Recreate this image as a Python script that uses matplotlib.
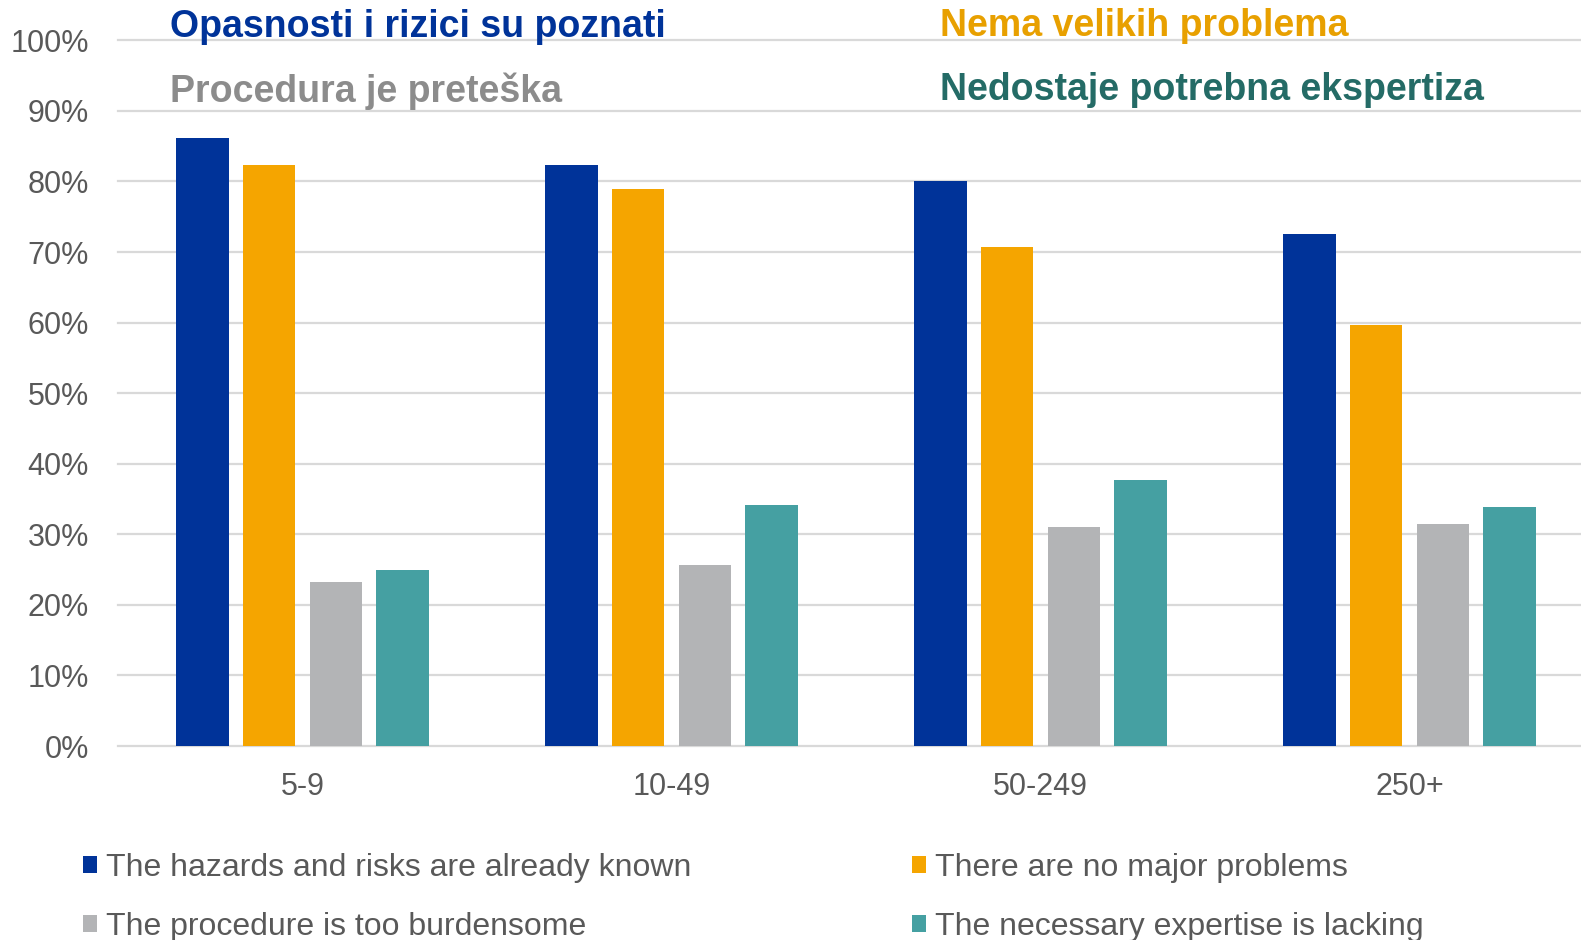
import numpy as np
import matplotlib.pyplot as plt
from matplotlib.patches import Patch

# Datos
categorias = ['5-9', '10-49', '50-249', '250+']
conocidos = [86.1, 82.4, 80.0, 72.6]
sin_problemas = [82.3, 78.9, 70.7, 59.7]
engorroso = [23.3, 25.6, 31.1, 31.4]
sin_experticia = [25.0, 34.1, 37.7, 33.9]

series = [conocidos, sin_problemas, engorroso, sin_experticia]
etiquetas = ['The hazards and risks are already known',
             'There are no major problems',
             'The procedure is too burdensome',
             'The necessary expertise is lacking']
colores = ['#003399', '#F5A500', '#B3B4B6', '#45A0A2']

titulos = ['Opasnosti i rizici su poznati', 'Nema velikih problema',
           'Procedura je preteška', 'Nedostaje potrebna ekspertiza']
colores_titulo = ['#003399', '#E8A000', '#8C8C8C', '#246B66']

plt.rcParams['font.family'] = ['Liberation Sans', 'DejaVu Sans']

W, H = 1581, 940
fig = plt.figure(figsize=(W / 100, H / 100), dpi=100)
ax = fig.add_axes([118 / W, (H - 746) / H, (W - 118) / W, (746 - 40.3) / H])

x = np.arange(len(categorias))
paso = 0.181
ancho = 0.142
for i, (vals, col) in enumerate(zip(series, colores)):
    ax.bar(x + (i - 1.5) * paso, vals, width=ancho, color=col, zorder=3)

ax.set_xlim(-0.5, -0.5 + (W - 118) / 369)
ax.set_ylim(0, 100)
ax.set_yticks(np.arange(0, 101, 10))
ax.set_yticklabels([f'{v}%' for v in range(0, 101, 10)])
ax.set_xticks(x)
ax.set_xticklabels(categorias)
ax.tick_params(axis='y', length=0, pad=21, labelsize=22, labelcolor='#595959')
ax.tick_params(axis='x', length=0, pad=19, labelsize=22, labelcolor='#595959')
for s in ax.spines.values():
    s.set_visible(False)
ax.grid(axis='y', color='#D9D9D9', linewidth=1.6, zorder=0)
ax.set_axisbelow(True)
for gl in ax.get_ygridlines():
    gl.set_clip_on(False)

# Titulos en color
pos = [(169.5, 36.7), (940, 36.0), (169.5, 101.7), (940, 100.0)]
for t, c, (px, py) in zip(titulos, colores_titulo, pos):
    fig.text(px / W, (H - py) / H, t, color=c, fontsize=27, fontweight='bold',
             ha='left', va='baseline')

# Leyenda
orden = [0, 2, 1, 3]
handles = [Patch(facecolor=colores[i]) for i in orden]
fig.legend(handles, [etiquetas[i] for i in orden], ncol=2, frameon=False,
           loc='upper left', bbox_to_anchor=(83 / W, 1 - 853 / H),
           borderaxespad=0, borderpad=0, fontsize=23,
           handlelength=0.44, handleheight=0.44, handletextpad=0.28,
           columnspacing=6.9, labelspacing=0.91, labelcolor='#595959')

fig.savefig('out.png', dpi=100)
